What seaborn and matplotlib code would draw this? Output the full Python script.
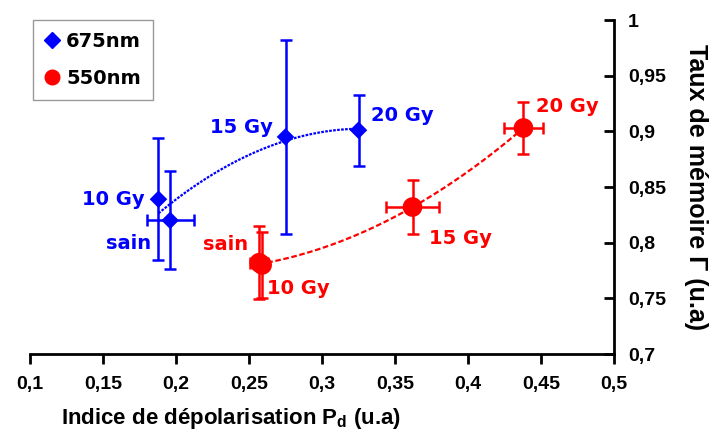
import numpy as np
import pandas as pd
import matplotlib
matplotlib.use("Agg")
import matplotlib.pyplot as plt
import seaborn as sns
from matplotlib.ticker import FixedLocator, FuncFormatter
from matplotlib.lines import Line2D

# Depolarisation index (x) and memory rate (y) for each irradiation dose
doses = ["sain", "10 Gy", "15 Gy", "20 Gy"]

pd_675 = [0.196, 0.188, 0.275, 0.325]
tau_675 = [0.820, 0.839, 0.895, 0.901]
xerr_675 = [0.016, 0.0, 0.0, 0.0]
yerr_675 = [0.044, 0.055, 0.087, 0.032]

pd_550 = [0.257, 0.259, 0.362, 0.438]
tau_550 = [0.782, 0.780, 0.832, 0.903]
xerr_550 = [0.006, 0.0, 0.018, 0.0135]
yerr_550 = [0.033, 0.030, 0.024, 0.023]

x_ticks = [0.1, 0.15, 0.2, 0.25, 0.3, 0.35, 0.4, 0.45, 0.5]
y_ticks = [0.7, 0.75, 0.8, 0.85, 0.9, 0.95, 1.0]

BLUE = "#0000ff"
RED = "#ff0000"

sns.set_theme(style="white")
plt.rcParams["font.family"] = ["DejaVu Sans"]
plt.rcParams["text.color"] = "black"

df = pd.concat([
    pd.DataFrame({"x": pd_675, "y": tau_675, "serie": "675nm", "dose": doses}),
    pd.DataFrame({"x": pd_550, "y": tau_550, "serie": "550nm", "dose": doses}),
], ignore_index=True)

fig = plt.figure(figsize=(7.14, 4.40), dpi=100)
ax = fig.add_axes([30 / 714, 1 - 354 / 440, (614 - 30) / 714, (354 - 20) / 440])

# polynomial trend lines (order 2)
sns.regplot(data=df[df.serie == "675nm"], x="x", y="y", order=2, ci=None,
            scatter=False, ax=ax,
            line_kws=dict(color=BLUE, lw=1.6, ls=(0, (1.2, 0.6)), zorder=2))
sns.regplot(data=df[df.serie == "550nm"], x="x", y="y", order=2, ci=None,
            scatter=False, ax=ax,
            line_kws=dict(color=RED, lw=1.6, ls=(0, (2.5, 1.2)), zorder=2))

# error bars
ax.errorbar(pd_675, tau_675, xerr=xerr_675, yerr=yerr_675, fmt="none",
            ecolor=BLUE, elinewidth=1.8, capsize=4, capthick=1.8, zorder=3)
ax.errorbar(pd_550, tau_550, xerr=xerr_550, yerr=yerr_550, fmt="none",
            ecolor=RED, elinewidth=1.8, capsize=4, capthick=1.8, zorder=3)

sns.scatterplot(data=df, x="x", y="y", hue="serie", style="serie",
                palette={"675nm": BLUE, "550nm": RED},
                markers={"675nm": "D", "550nm": "o"},
                size="serie", sizes={"675nm": 80, "550nm": 200},
                edgecolor="none", ax=ax, zorder=4, legend=False)

# point annotations: (dx, dy) offsets from each point
lab_675 = [(-0.0285, -0.021), (-0.031, 0.0), (-0.030, 0.008), (0.030, 0.013)]
for (dx, dy), txt, x, y in zip(lab_675, doses, pd_675, tau_675):
    ax.text(x + dx, y + dy, txt, color=BLUE, fontsize=14, fontweight="bold",
            ha="center", va="center")
lab_550 = [(-0.023, 0.016), (0.025, -0.021), (0.033, -0.028), (0.030, 0.019)]
for (dx, dy), txt, x, y in zip(lab_550, doses, pd_550, tau_550):
    ax.text(x + dx, y + dy, txt, color=RED, fontsize=14, fontweight="bold",
            ha="center", va="center")

# legend
handles = [Line2D([], [], ls="none", marker="D", color=BLUE, markersize=8.5),
           Line2D([], [], ls="none", marker="o", color=RED, markersize=10.5)]
leg = ax.legend(handles, ["675nm", "550nm"], loc="upper left",
                bbox_to_anchor=(0.005, 1.0), frameon=True, fancybox=False,
                prop=dict(size=14, weight="bold"), handlelength=0.8,
                handletextpad=0.3, borderpad=0.6, labelspacing=0.95,
                borderaxespad=0.0)
leg.get_frame().set_edgecolor("#808080")
leg.get_frame().set_linewidth(1.0)
for t in leg.get_texts():
    t.set_color("black")

# axes
ax.set_xlim(0.1, 0.5)
ax.set_ylim(0.7, 1.0)
ax.xaxis.set_major_locator(FixedLocator(x_ticks))
ax.yaxis.set_major_locator(FixedLocator(y_ticks))
fmt = FuncFormatter(lambda v, p: f"{v:g}".replace(".", ","))
ax.xaxis.set_major_formatter(fmt)
ax.yaxis.set_major_formatter(fmt)

for s in ["top", "left"]:
    ax.spines[s].set_visible(False)
for s in ["bottom", "right"]:
    ax.spines[s].set_color("black")
    ax.spines[s].set_linewidth(2)

ax.yaxis.tick_right()
ax.yaxis.set_label_position("right")
ax.tick_params(axis="x", direction="out", length=7, width=2, color="black",
               labelcolor="black", bottom=True, pad=9)
ax.tick_params(axis="y", direction="in", length=7, width=2, color="black",
               labelcolor="black", right=True, left=False, pad=10)
for t in ax.get_xticklabels() + ax.get_yticklabels():
    t.set_fontfamily(["Liberation Sans", "DejaVu Sans"])
    t.set_fontweight("bold")
    t.set_fontsize(14)

ax.set_xlabel("Indice de dépolarisation P$_\\mathregular{d}$ (u.a)",
              family=["Liberation Sans", "DejaVu Sans"], color="black",
              weight="bold", fontsize=16)
ax.xaxis.set_label_coords(0.345, -0.155)
ax.set_ylabel("Taux de mémoire Γ (u.a)",
              family=["Liberation Sans", "DejaVu Sans"], color="black",
              weight="bold", fontsize=18, rotation=-90, labelpad=30)
ax.grid(False)

fig.savefig("out.png", dpi=100, facecolor="white")
